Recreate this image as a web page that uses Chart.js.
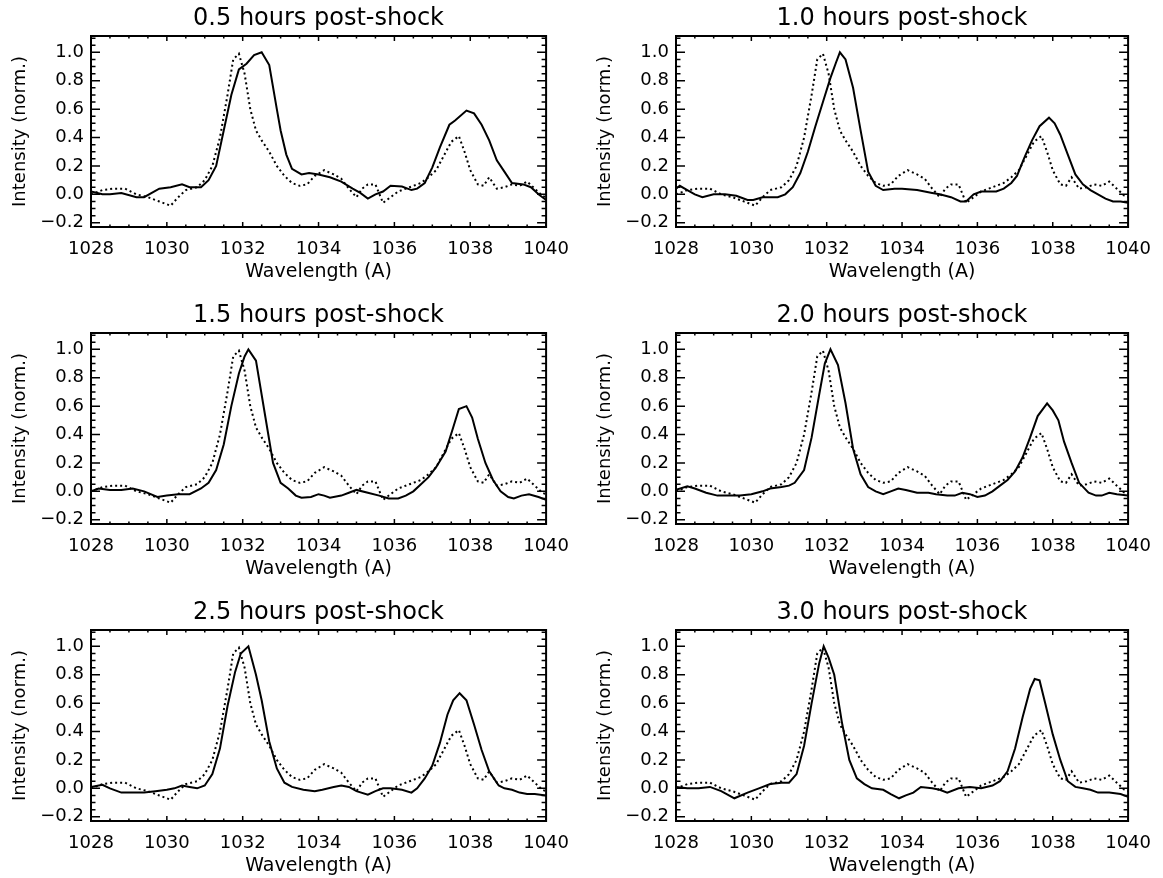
<!DOCTYPE html>
<html lang="en">
<head>
<meta charset="UTF-8">
<title>Line profiles post-shock</title>
<script src="https://cdn.jsdelivr.net/npm/chart.js"></script>
<style>
  body { margin: 0; background: #fff; }
  #painel { position: relative; width: 1163px; height: 878px; overflow: hidden; }
  #painel canvas { position: absolute; }
</style>
</head>
<body>
<div id="painel"></div>

<script>
// tick labels
const xTicks = [1028, 1030, 1032, 1034, 1036, 1038, 1040];
const yTicks = [-0.2, 0.0, 0.2, 0.4, 0.6, 0.8, 1.0];

const panelTitles = ['0.5 hours post-shock', '1.0 hours post-shock', '1.5 hours post-shock',
                     '2.0 hours post-shock', '2.5 hours post-shock', '3.0 hours post-shock'];

// observed profile (dotted), same in every panel
const waveObs = [1028.0, 1028.3, 1028.6, 1028.9, 1029.2, 1029.5, 1029.8, 1030.1, 1030.3, 1030.5, 1030.8, 1031.0, 1031.2, 1031.4, 1031.6, 1031.75, 1031.9, 1032.05, 1032.2, 1032.35, 1032.5, 1032.7, 1032.9, 1033.1, 1033.3, 1033.5, 1033.7, 1033.9, 1034.15, 1034.4, 1034.6, 1034.8, 1035.0, 1035.15, 1035.3, 1035.5, 1035.7, 1035.9, 1036.1, 1036.4, 1036.7, 1036.9, 1037.1, 1037.3, 1037.5, 1037.7, 1037.85, 1038.0, 1038.2, 1038.35, 1038.5, 1038.7, 1038.9, 1039.1, 1039.3, 1039.5, 1039.7, 1039.9, 1040.0];
const obs = [0.0, 0.03, 0.04, 0.04, 0.0, -0.02, -0.05, -0.08, -0.02, 0.03, 0.05, 0.1, 0.2, 0.4, 0.7, 0.95, 0.99, 0.85, 0.6, 0.45, 0.38, 0.3, 0.2, 0.13, 0.08, 0.06, 0.07, 0.13, 0.17, 0.14, 0.11, 0.04, -0.02, 0.04, 0.07, 0.07, -0.06, -0.02, 0.02, 0.05, 0.08, 0.12, 0.17, 0.27, 0.37, 0.41, 0.3, 0.17, 0.07, 0.06, 0.12, 0.04, 0.05, 0.07, 0.06, 0.09, 0.04, -0.01, -0.02];

// model profiles (solid)
const wave05 = [1028.0, 1028.3, 1028.5, 1028.8, 1029.2, 1029.4, 1029.8, 1030.1, 1030.4, 1030.6, 1030.9, 1031.1, 1031.3, 1031.5, 1031.7, 1031.9, 1032.1, 1032.3, 1032.5, 1032.7, 1032.9, 1033.0, 1033.15, 1033.3, 1033.55, 1033.75, 1034.0, 1034.3, 1034.6, 1034.9, 1035.1, 1035.3, 1035.5, 1035.7, 1035.9, 1036.2, 1036.45, 1036.6, 1036.8, 1037.0, 1037.2, 1037.45, 1037.6, 1037.9, 1038.1, 1038.3, 1038.5, 1038.7, 1038.9, 1039.1, 1039.4, 1039.6, 1039.8, 1040.0];
const int05 = [0.02, 0.0, 0.0, 0.01, -0.02, -0.02, 0.04, 0.05, 0.07, 0.05, 0.05, 0.1, 0.2, 0.45, 0.7, 0.88, 0.92, 0.98, 1.0, 0.91, 0.6, 0.45, 0.28, 0.18, 0.14, 0.15, 0.14, 0.12, 0.09, 0.04, 0.01, -0.03, 0.0, 0.02, 0.06, 0.055, 0.03, 0.04, 0.08, 0.19, 0.33, 0.49, 0.52, 0.59, 0.57, 0.49, 0.38, 0.24, 0.16, 0.08, 0.07, 0.05, 0.0, -0.04];

const wave10 = [1028.0, 1028.1, 1028.3, 1028.5, 1028.7, 1029.0, 1029.3, 1029.6, 1029.9, 1030.05, 1030.3, 1030.5, 1030.7, 1030.9, 1031.1, 1031.3, 1031.5, 1031.7, 1031.9, 1032.1, 1032.25, 1032.35, 1032.5, 1032.7, 1032.9, 1033.1, 1033.3, 1033.5, 1033.8, 1034.0, 1034.4, 1034.8, 1035.0, 1035.3, 1035.55, 1035.7, 1035.9, 1036.1, 1036.5, 1036.7, 1036.9, 1037.05, 1037.25, 1037.45, 1037.65, 1037.9, 1038.05, 1038.2, 1038.4, 1038.6, 1038.8, 1039.0, 1039.2, 1039.4, 1039.6, 1039.8, 1040.0];
const int10 = [0.04, 0.06, 0.03, 0.0, -0.02, 0.0, 0.0, -0.01, -0.04, -0.04, -0.02, -0.02, -0.02, 0.0, 0.05, 0.15, 0.3, 0.48, 0.65, 0.82, 0.93, 1.0, 0.95, 0.75, 0.45, 0.16, 0.06, 0.03, 0.04, 0.04, 0.03, 0.01, 0.0, -0.02, -0.05, -0.05, 0.0, 0.02, 0.02, 0.04, 0.08, 0.13, 0.26, 0.38, 0.48, 0.54, 0.5, 0.42, 0.28, 0.14, 0.07, 0.03, 0.0, -0.03, -0.05, -0.05, -0.06];

const wave15 = [1028.0, 1028.2, 1028.5, 1028.8, 1029.1, 1029.4, 1029.75, 1030.0, 1030.3, 1030.6, 1030.9, 1031.1, 1031.3, 1031.5, 1031.7, 1031.9, 1032.05, 1032.15, 1032.35, 1032.6, 1032.8, 1033.0, 1033.2, 1033.4, 1033.55, 1033.8, 1034.0, 1034.15, 1034.3, 1034.6, 1034.8, 1035.0, 1035.3, 1035.6, 1035.85, 1036.1, 1036.3, 1036.5, 1036.7, 1036.9, 1037.1, 1037.35, 1037.55, 1037.7, 1037.9, 1038.05, 1038.2, 1038.4, 1038.6, 1038.8, 1039.0, 1039.15, 1039.35, 1039.55, 1039.8, 1040.0];
const int15 = [0.0, 0.02, 0.01, 0.01, 0.02, 0.0, -0.04, -0.03, -0.02, -0.02, 0.02, 0.06, 0.15, 0.33, 0.6, 0.83, 0.95, 1.0, 0.92, 0.52, 0.2, 0.06, 0.02, -0.03, -0.045, -0.04, -0.02, -0.03, -0.045, -0.03, -0.01, 0.01, -0.01, -0.03, -0.05, -0.05, -0.03, 0.0, 0.05, 0.1, 0.17, 0.28, 0.45, 0.58, 0.6, 0.52, 0.37, 0.2, 0.08, 0.0, -0.04, -0.05, -0.03, -0.02, -0.04, -0.06];

const wave20 = [1028.0, 1028.3, 1028.5, 1028.8, 1029.1, 1029.4, 1029.7, 1030.0, 1030.3, 1030.5, 1030.8, 1031.0, 1031.15, 1031.4, 1031.6, 1031.8, 1031.95, 1032.1, 1032.3, 1032.5, 1032.7, 1032.9, 1033.1, 1033.3, 1033.5, 1033.7, 1033.9, 1034.1, 1034.4, 1034.7, 1034.9, 1035.2, 1035.4, 1035.6, 1035.8, 1036.0, 1036.2, 1036.4, 1036.6, 1036.8, 1037.0, 1037.2, 1037.4, 1037.6, 1037.85, 1038.0, 1038.15, 1038.3, 1038.5, 1038.7, 1038.95, 1039.15, 1039.3, 1039.5, 1039.7, 1040.0];
const int20 = [0.01, 0.035, 0.02, -0.01, -0.03, -0.03, -0.03, -0.02, 0.0, 0.02, 0.03, 0.04, 0.06, 0.15, 0.38, 0.68, 0.9, 1.0, 0.89, 0.62, 0.3, 0.12, 0.03, 0.0, -0.02, 0.0, 0.02, 0.01, -0.01, -0.01, -0.02, -0.03, -0.03, -0.01, -0.02, -0.04, -0.03, 0.0, 0.04, 0.08, 0.14, 0.24, 0.38, 0.53, 0.62, 0.57, 0.5, 0.35, 0.2, 0.06, -0.01, -0.03, -0.03, -0.01, -0.02, -0.03];

const wave25 = [1028.0, 1028.3, 1028.5, 1028.8, 1029.1, 1029.4, 1029.7, 1030.0, 1030.2, 1030.4, 1030.6, 1030.8, 1031.0, 1031.2, 1031.4, 1031.6, 1031.8, 1031.95, 1032.15, 1032.35, 1032.5, 1032.7, 1032.9, 1033.1, 1033.3, 1033.6, 1033.9, 1034.1, 1034.4, 1034.6, 1034.8, 1035.0, 1035.3, 1035.5, 1035.7, 1035.9, 1036.2, 1036.45, 1036.6, 1036.8, 1037.0, 1037.2, 1037.4, 1037.55, 1037.72, 1037.9, 1038.1, 1038.3, 1038.5, 1038.75, 1038.9, 1039.1, 1039.3, 1039.5, 1039.7, 1040.0];
const int25 = [0.01, 0.025, 0.0, -0.03, -0.03, -0.03, -0.02, -0.01, 0.0, 0.02, 0.01, 0.0, 0.02, 0.1, 0.28, 0.58, 0.82, 0.95, 1.0, 0.8, 0.62, 0.33, 0.14, 0.04, 0.01, -0.01, -0.02, -0.01, 0.01, 0.02, 0.01, -0.02, -0.045, -0.02, 0.0, 0.0, -0.01, -0.03, 0.0, 0.07, 0.16, 0.32, 0.52, 0.62, 0.67, 0.62, 0.45, 0.27, 0.12, 0.02, 0.0, -0.01, -0.03, -0.04, -0.04, -0.05];

const wave30 = [1028.0, 1028.3, 1028.6, 1028.9, 1029.2, 1029.55, 1029.9, 1030.2, 1030.5, 1030.8, 1031.0, 1031.2, 1031.4, 1031.6, 1031.8, 1031.92, 1032.05, 1032.2, 1032.4, 1032.6, 1032.8, 1033.0, 1033.2, 1033.5, 1033.7, 1033.92, 1034.1, 1034.3, 1034.5, 1034.8, 1035.0, 1035.2, 1035.5, 1035.8, 1036.1, 1036.4, 1036.6, 1036.8, 1037.0, 1037.2, 1037.4, 1037.52, 1037.65, 1037.8, 1038.0, 1038.2, 1038.4, 1038.6, 1038.8, 1039.0, 1039.2, 1039.5, 1039.8, 1040.0];
const int30 = [0.01, 0.0, 0.0, 0.01, -0.02, -0.07, -0.03, 0.0, 0.03, 0.04, 0.04, 0.1, 0.3, 0.6, 0.88, 1.0, 0.92, 0.8, 0.47, 0.2, 0.07, 0.03, 0.0, -0.01, -0.04, -0.07, -0.05, -0.03, 0.01, 0.0, -0.01, -0.03, 0.0, 0.01, 0.0, 0.02, 0.05, 0.12, 0.28, 0.5, 0.7, 0.77, 0.76, 0.6, 0.38, 0.2, 0.05, 0.01, 0.0, -0.01, -0.03, -0.03, -0.04, -0.06];

const modelWave = [wave05, wave10, wave15, wave20, wave25, wave30];
const modelInt = [int05, int10, int15, int20, int25, int30];

Chart.defaults.font.family = 'DejaVu Sans';
Chart.defaults.color = '#000';

// IDL-like box with inward ticks on all four sides
const caixa = {
    id: 'caixa',
    afterDatasetsDraw(chart) {
        const { ctx, chartArea: a, scales: { x, y } } = chart;
        ctx.save();
        ctx.strokeStyle = '#000';
        ctx.lineWidth = 1.5;
        ctx.beginPath();
        for (let v = x.min; v <= x.max + 1e-9; v += 0.5) {
            const px = x.getPixelForValue(v);
            const len = xTicks.includes(Math.round(v * 10) / 10) ? 5 : 2.5;
            ctx.moveTo(px, a.bottom); ctx.lineTo(px, a.bottom - len);
            ctx.moveTo(px, a.top); ctx.lineTo(px, a.top + len);
        }
        for (let k = 0; k * 0.05 <= 1.3 + 1e-9; k++) {
            const v = -0.2 + k * 0.05;
            const py = y.getPixelForValue(v);
            const len = (k % 4 === 0) ? 9 : 4.5;
            ctx.moveTo(a.left, py); ctx.lineTo(a.left + len, py);
            ctx.moveTo(a.right, py); ctx.lineTo(a.right - len, py);
        }
        ctx.stroke();
        ctx.lineWidth = 2;
        ctx.strokeRect(a.left, a.top, a.right - a.left, a.bottom - a.top);
        ctx.restore();
    }
};

const colunas = [
    { left: 0, width: 581, axisW: 91, padRight: 31, titlePad: 10 },
    { left: 581, width: 582, axisW: 95, padRight: 27, titlePad: 14 }
];
const linhasTop = [0, 297, 594];

function pares(ws, vs) {
    return ws.map((w, k) => ({ x: w, y: vs[k] }));
}

function criarPainel(i) {
    const col = colunas[i % 2];
    const top = linhasTop[Math.floor(i / 2)];
    const canvas = document.createElement('canvas');
    canvas.width = col.width;
    canvas.height = 284;
    canvas.style.left = col.left + 'px';
    canvas.style.top = top + 'px';
    document.getElementById('painel').appendChild(canvas);

    new Chart(canvas, {
        type: 'line',
        data: {
            datasets: [
                {
                    data: pares(modelWave[i], modelInt[i]),
                    borderColor: '#000',
                    borderWidth: 2,
                    pointRadius: 0,
                    tension: 0
                },
                {
                    data: pares(waveObs, obs),
                    borderColor: '#000',
                    borderWidth: 2,
                    borderDash: [2, 3],
                    pointRadius: 0,
                    tension: 0
                }
            ]
        },
        plugins: [caixa],
        options: {
            responsive: false,
            animation: false,
            layout: { padding: { left: 0, right: col.padRight, top: 0, bottom: 0 } },
            plugins: {
                legend: { display: false },
                tooltip: { enabled: false },
                title: {
                    display: true,
                    text: panelTitles[i],
                    fullSize: false,
                    font: { size: 24, weight: 'normal' },
                    padding: { top: 4, bottom: 3.2 }
                }
            },
            scales: {
                x: {
                    type: 'linear',
                    min: 1028,
                    max: 1040,
                    grid: { display: false, drawTicks: false },
                    border: { display: false },
                    afterBuildTicks: s => { s.ticks = xTicks.map(v => ({ value: v })); },
                    afterFit: s => { s.height = 57; },
                    ticks: {
                        padding: 12,
                        maxRotation: 0,
                        font: { size: 18 },
                        callback: v => String(v)
                    },
                    title: {
                        display: true,
                        text: 'Wavelength (A)',
                        font: { size: 19 },
                        padding: { top: 0, bottom: 1 }
                    }
                },
                y: {
                    type: 'linear',
                    min: -0.23,
                    max: 1.115,
                    grid: { display: false, drawTicks: false },
                    border: { display: false },
                    afterBuildTicks: s => { s.ticks = yTicks.map(v => ({ value: v })); },
                    afterFit: s => { s.width = col.axisW; },
                    ticks: {
                        padding: 7,
                        font: { size: 18 },
                        callback: v => v.toFixed(1).replace('-', '\u2212')
                    },
                    title: {
                        display: true,
                        text: 'Intensity (norm.)',
                        font: { size: 18 },
                        padding: { top: col.titlePad, bottom: 0 }
                    }
                }
            }
        }
    });
}

for (let i = 0; i < 6; i++) criarPainel(i);
</script>
</body>
</html>
